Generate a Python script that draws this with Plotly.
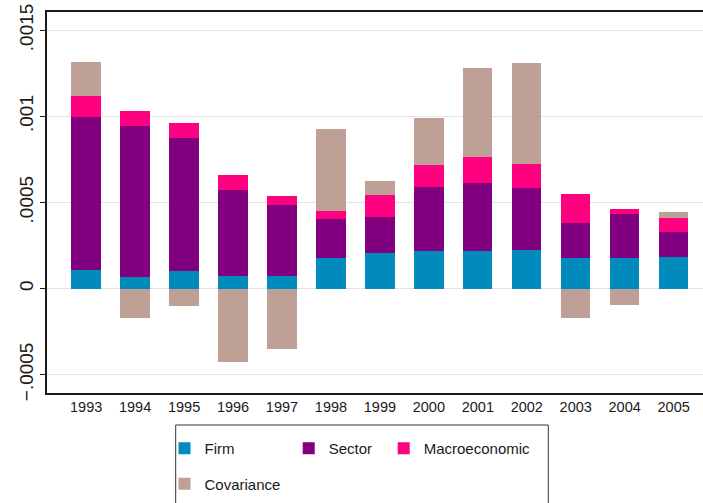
import plotly.graph_objects as go

# Variance decomposition by year
years = [1993, 1994, 1995, 1996, 1997, 1998, 1999, 2000, 2001, 2002, 2003, 2004, 2005]
firm = [0.000106, 0.000066, 0.000101, 0.000076, 0.000072, 0.000176, 0.000209,
        0.000217, 0.000217, 0.000223, 0.000176, 0.000176, 0.000184]
sector = [0.000889, 0.000881, 0.000772, 0.000496, 0.000412, 0.000231, 0.000205,
          0.000373, 0.000395, 0.000360, 0.000203, 0.000258, 0.000143]
macro = [0.000122, 0.000083, 0.000089, 0.000085, 0.000054, 0.000042, 0.000132,
         0.000126, 0.000155, 0.000143, 0.000169, 0.000027, 0.000083]
covariance = [0.000201, -0.000168, -0.000099, -0.000428, -0.000348, 0.000476, 0.000077,
              0.000275, 0.000513, 0.000583, -0.000170, -0.000093, 0.000033]

y_tickvals = [-0.0005, 0, 0.0005, 0.001, 0.0015]
y_ticktext = ["\u2212.0005", "0", ".0005", ".001", ".0015"]

W, H = 703, 503
ML, MT, MB, MR = 47, 12, 110, 0
PW, PH = W - ML - MR, H - MT - MB


def px_x(p):
    return (p - ML) / PW


def px_y(p):
    return (H - MB - p) / PH


series = [
    ("Firm", firm, "#008bbc", "legend"),
    ("Sector", sector, "#800080", "legend2"),
    ("Macroeconomic", macro, "#ff0080", "legend3"),
    ("Covariance", covariance, "#bea097", "legend"),
]

fig = go.Figure()
for i, (name, vals, color, leg) in enumerate(series):
    fig.add_trace(go.Bar(
        x=years, y=vals, name=name, width=0.6,
        marker=dict(color=color, line=dict(width=0)),
        legend=leg, legendgroup=name,
    ))

font = "Liberation Sans, Arial, sans-serif"
leg_common = dict(
    orientation="v", bgcolor="rgba(0,0,0,0)", borderwidth=0,
    font=dict(family=font, size=15, color="#1a1a1a"),
    xanchor="left", yanchor="top", tracegroupgap=13,
)

fig.update_layout(
    width=W, height=H,
    margin=dict(l=ML, r=MR, t=MT, b=MB),
    paper_bgcolor="white", plot_bgcolor="white",
    barmode="relative", bargap=0,
    font=dict(family=font, color="#1a1a1a"),
    xaxis=dict(
        range=[1992.2, 2005.6], tickmode="array", tickvals=years,
        ticktext=[str(y) for y in years], ticks="", showgrid=False,
        showline=True, linecolor="#1a1a1a", linewidth=1.5, mirror=True,
        zeroline=False, tickfont=dict(size=14.5),
    ),
    yaxis=dict(
        range=[-0.000606, 0.001606], tickmode="array", tickvals=y_tickvals,
        ticktext=y_ticktext, tickangle=-90, ticks="outside", ticklen=5,
        tickcolor="#1a1a1a", showgrid=True, gridcolor="#e3e3e3", gridwidth=1.3,
        showline=True, linecolor="#1a1a1a", linewidth=1.5, zeroline=False,
        tickfont=dict(size=19),
    ),
    legend=dict(x=px_x(164.5), y=px_y(432), **leg_common),
    legend2=dict(x=px_x(288.7), y=px_y(432), **leg_common),
    legend3=dict(x=px_x(383.7), y=px_y(432), **leg_common),
    shapes=[dict(
        type="rect", xref="paper", yref="paper",
        x0=px_x(175.7), x1=px_x(548.3), y0=px_y(515), y1=px_y(425),
        line=dict(color="#333333", width=1), fillcolor="rgba(0,0,0,0)",
        layer="below",
    )],
)

fig.write_html("out.html")
